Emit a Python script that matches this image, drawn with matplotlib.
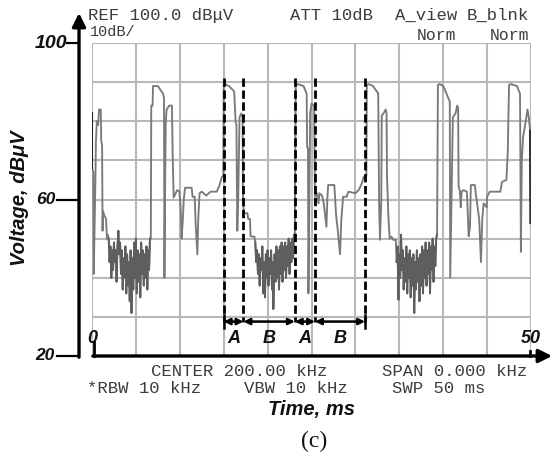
import matplotlib
matplotlib.use("Agg")
import matplotlib.pyplot as plt

# ---------------- data ----------------
trace_t = [
    0.0, 0.0, 0.15, 0.2, 0.35, 0.45, 0.55, 0.7, 0.8, 1.0, 1.05, 1.15, 1.2, 1.25, 1.4, 1.6, 1.7, 1.8,
    1.9, 2.0, 2.1, 2.2, 2.3, 2.4, 2.5, 2.6, 2.7, 2.8, 2.9, 3.0, 3.1, 3.2, 3.3, 3.4, 3.5, 3.6, 3.7, 3.8,
    3.9, 4.0, 4.1, 4.2, 4.3, 4.4, 4.5, 4.6, 4.7, 4.8, 4.9, 5.0, 5.1, 5.2, 5.3, 5.4, 5.5, 5.6, 5.7, 5.8,
    5.9, 6.0, 6.1, 6.2, 6.3, 6.4, 6.5, 6.6,
    6.7, 6.75, 6.9, 6.95, 7.5, 8.1, 8.2, 8.25, 8.3, 8.4, 8.5, 8.8, 9.1, 9.2, 9.3, 9.45, 9.7, 9.95,
    10.1, 10.2, 10.35, 10.45, 10.6, 11.35, 11.45, 11.7, 11.8, 12.0, 12.1, 12.25, 12.5, 13.0, 13.5,
    14.2, 14.5, 14.8, 14.95,
    15.0, 15.1, 15.6, 16.2, 16.35, 16.45, 16.55, 16.65, 16.8, 17.0, 17.15, 17.2, 17.3, 17.7, 17.8,
    18.0, 18.05, 18.5,
    18.6, 18.7, 18.8, 18.9, 19.0, 19.1, 19.2, 19.3, 19.4, 19.5, 19.6, 19.7, 19.8, 19.9, 20.0, 20.1,
    20.2, 20.3, 20.4, 20.5, 20.6, 20.65, 20.8, 20.9, 21.0, 21.1, 21.2, 21.3, 21.4, 21.5, 21.6, 21.7,
    21.8, 21.9, 22.0, 22.1, 22.2, 22.3, 22.4, 22.5, 22.6, 22.7, 22.8, 22.9, 23.0,
    23.1, 23.2, 23.4, 24.1, 24.45, 24.5, 24.6, 24.65, 24.75, 24.85, 25.0, 25.3, 25.4, 25.6, 25.8,
    25.9, 26.2, 26.4, 26.7, 26.8, 26.9, 27.6, 27.8, 28.0, 28.25, 28.4, 28.6, 29.0, 29.2, 30.0, 30.4,
    30.7, 30.95, 31.25,
    31.3, 31.5, 32.0, 32.6, 32.7, 32.8, 32.95, 33.0, 33.2, 33.45, 33.55, 33.6, 33.75, 33.9, 34.1,
    34.3, 34.6,
    34.7, 34.8, 34.9, 35.0, 35.1, 35.2, 35.3, 35.4, 35.5, 35.6, 35.7, 35.8, 35.9, 36.0, 36.1, 36.2,
    36.3, 36.4, 36.5, 36.6, 36.7, 36.8, 36.9, 37.0, 37.1, 37.2, 37.3, 37.4, 37.5, 37.6, 37.7, 37.8,
    37.9, 38.0, 38.1, 38.2, 38.3, 38.4, 38.5, 38.6, 38.7, 38.8, 38.9, 39.0, 39.1, 39.2, 39.3,
    39.4, 39.6, 40.0, 40.2, 40.75, 40.8, 40.95, 41.1, 41.4, 41.6, 41.7, 41.75, 41.9, 42.0, 42.1,
    42.3, 42.7, 42.9, 43.05, 43.15, 43.6, 43.8, 44.1, 44.3, 44.45, 44.6, 44.95, 45.0, 45.3, 46.5,
    46.7, 47.2, 47.35,
    47.5, 47.7, 48.4, 48.75, 48.85, 48.95, 49.1, 49.4, 49.6, 49.75, 49.9, 49.95,
]
trace_v = [
    82, 68, 67, 41, 60, 75, 80, 79, 83, 83, 75, 74, 52, 57, 56, 55, 50, 51,
    50, 44, 48, 40, 47, 42, 49, 44, 47, 39, 48, 52, 46, 49, 41, 47, 37, 45, 40, 48,
    36, 46, 38, 44, 34, 47, 31, 45, 37, 49, 40, 50, 36, 47, 39, 46, 35, 49, 41, 47,
    38, 46, 40, 48, 37, 47, 42, 50,
    50, 84, 84, 89, 89, 87, 86, 40, 56, 80, 83, 84, 84, 70, 60.5, 61.2, 62.4, 62,
    58, 50, 55, 60, 63, 63, 60.7, 60.7, 54, 46, 55, 61.6, 62, 61, 62,
    62, 63.5, 65.8, 66,
    89.3, 89.5, 89, 87.6, 80, 79, 52, 60, 81, 82, 81, 60, 56.5, 56.5, 55,
    55, 50.6, 50.5,
    49, 44, 47, 41, 46, 38, 45, 42, 48, 36, 44, 35, 46, 40, 47, 38,
    45, 41, 47, 37, 44, 32, 46, 39, 48, 40, 47, 37, 48, 41, 49, 39,
    48, 42, 49, 40, 48, 43, 50, 41, 49, 44, 50, 45, 51,
    51, 89, 89.5, 89, 87, 73.5, 73, 36, 60, 82, 84.5, 84, 60.7, 61.6, 59,
    61.6, 61, 59, 53, 60, 63.7, 63.7, 56, 52, 46, 55, 60.7, 60.7, 62, 61.6, 62.5,
    64, 65.8, 66,
    89.3, 89.5, 89, 87.1, 59, 49.7, 60, 81.5, 82, 83, 82, 66, 56, 50, 50.5,
    49.7, 49.7,
    44, 48, 34.4, 46, 40, 51, 42, 47, 37, 45, 39, 48, 36, 46, 40, 47,
    35, 45, 38, 46, 31, 44, 37, 47, 39, 45, 34, 46, 38, 48, 36, 47,
    40, 49, 38, 47, 41, 49, 36, 48, 42, 50, 39, 48, 43, 50, 51,
    89.3, 89.5, 89, 88, 85, 40, 60, 81, 82, 84, 83.5, 63.5, 62, 58, 62,
    62.4, 62, 50.6, 53, 63.7, 63.7, 60, 55, 44, 55, 59, 58, 60.7, 62, 62,
    64.5, 65, 72,
    89.3, 89.5, 89, 87, 46.6, 70, 76, 80, 83, 81, 77.5, 54,
]

noisy_ranges = [(1.9, 6.6), (18.6, 23.0), (34.7, 39.3)]   # dense-noise stretches, ms
marker_t = [15.0, 17.25, 23.1, 25.4, 31.1]               # dashed interval boundaries, ms
interval_labels = ["A", "B", "A", "B"]
ytick_vals = [20, 60, 100]
xtick_vals = [0, 50]

header_texts = ["REF 100.0 dBμV", "10dB/", "ATT 10dB", "A_view", "B_blnk", "Norm", "Norm"]
footer_texts = ["CENTER 200.00 kHz", "*RBW 10 kHz", "VBW 10 kHz", "SPAN 0.000 kHz", "SWP 50 ms"]

# ---------------- figure ----------------
W, H = 552, 458
fig = plt.figure(figsize=(W / 100, H / 100), dpi=100)
fig.patch.set_facecolor("white")
ax = fig.add_axes([92 / W, 1 - 356 / H, 439 / W, 313 / H])
ax.set_xlim(0, 50)
ax.set_ylim(20, 100)
for s in ax.spines.values():
    s.set_visible(False)
ax.set_xticks(range(0, 51, 5))
ax.set_yticks(range(20, 101, 10))
ax.tick_params(length=0, labelbottom=False, labelleft=False)
ax.grid(True, color="#b8b8b8", lw=1.5)
ax.set_axisbelow(True)

# trace
ax.plot(trace_t, trace_v, color="#7a7a7a", lw=1.35, zorder=3)
for lo, hi in noisy_ranges:
    idx = [i for i, t in enumerate(trace_t) if lo <= t <= hi]
    ax.plot([trace_t[i] for i in idx], [trace_v[i] for i in idx],
            color="#5e5e5e", lw=1.35, zorder=3.5)
ax.plot(trace_t[:2], trace_v[:2], color="#222222", lw=1.5, zorder=4)
ax.plot(trace_t[-2:], trace_v[-2:], color="#333333", lw=1.7, zorder=4)

# dashed interval boundaries
dim_y = 28.8
for t in marker_t:
    ax.plot([t, t], [91, dim_y], color="black", lw=2.0, ls=(0, (3.0, 1.3)), zorder=5, clip_on=False)
for i, lab in enumerate(interval_labels):
    a, b = marker_t[i], marker_t[i + 1]
    ax.annotate("", xy=(b, dim_y), xytext=(a, dim_y),
                arrowprops=dict(arrowstyle="<|-|>", lw=1.8, color="black",
                                mutation_scale=9, shrinkA=0, shrinkB=0), zorder=6)
    ax.text((a + b) / 2, 24.6, lab, ha="center", va="center", fontsize=13,
            fontweight="bold", style="italic", family="Liberation Sans", color="#111111")
for t in (marker_t[0], marker_t[-1]):
    ax.plot([t, t], [dim_y - 1.6, dim_y + 1.6], color="black", lw=1.8, zorder=6)

# axes arrows
ax.annotate("", xy=(-0.0296, 1.096), xytext=(-0.0296, -0.004), xycoords="axes fraction",
            arrowprops=dict(arrowstyle="-|>", lw=2.4, color="black", mutation_scale=20,
                            shrinkA=0, shrinkB=0), annotation_clip=False)
ax.annotate("", xy=(1.048, 0.0), xytext=(0.002, 0.0), xycoords="axes fraction",
            arrowprops=dict(arrowstyle="-|>", lw=2.4, color="black", mutation_scale=20,
                            shrinkA=0, shrinkB=0), annotation_clip=False)
# small x ticks
ax.plot([0.2, 0.2], [20, 23.5], color="black", lw=2.0, clip_on=False, zorder=6)
ax.plot([49.9, 49.9], [20, 21.2], color="black", lw=2.0, clip_on=False, zorder=6)

# y tick marks and labels
for v in ytick_vals:
    left_px = 67 if v == 100 else 57
    ax.plot([(left_px - 92) / 8.78, (78 - 92) / 8.78], [v, v], color="black", lw=1.6,
            clip_on=False, zorder=6)
    lab_px = 67 if v == 100 else 55
    ax.text((lab_px - 92) / 8.78, v, str(v), ha="right", va="center",
            fontsize=14 if v == 100 else 12.5,
            fontweight="bold", style="italic", family="Liberation Sans", color="#111111")
for v in xtick_vals:
    ax.text(v, 24.6, str(v), ha="center", va="center", fontsize=13,
            fontweight="bold", style="italic", family="Liberation Sans", color="#111111")

# axis titles
fig.text(20 / W, 1 - 198 / H, "Voltage, dBμV", rotation=90, ha="center", va="center",
         fontsize=14.5, fontweight="bold", style="italic", family="Liberation Sans", color="#111111")
fig.text(312 / W, 1 - 409.5 / H, "Time, ms", ha="center", va="center",
         fontsize=14.5, fontweight="bold", style="italic", family="Liberation Sans", color="#111111")
fig.text(314 / W, 1 - 441 / H, "(c)", ha="center", va="center", fontsize=17,
         family="Liberation Serif", color="#111111")

# instrument annotations (monospace)
mono = dict(family="Liberation Mono", color="#3c3c3c", va="center", ha="left")
hdr_pos = [(88, 15.5, 12.4), (90, 32.5, 11.0), (290, 15.5, 12.4), (395, 15.5, 12.4),
           (467, 15.5, 12.4), (417, 36, 11.8), (490, 36, 11.8)]
for txt, (px, py, fs) in zip(header_texts, hdr_pos):
    fig.text(px / W, 1 - py / H, txt, fontsize=fs, **mono)
ftr_pos = [(151, 371), (87, 388.5), (244, 388.5), (382, 371), (392, 388.5)]
for txt, (px, py) in zip(footer_texts, ftr_pos):
    fig.text(px / W, 1 - py / H, txt, fontsize=12.4, **mono)

fig.savefig("out.png", dpi=100, facecolor="white")
